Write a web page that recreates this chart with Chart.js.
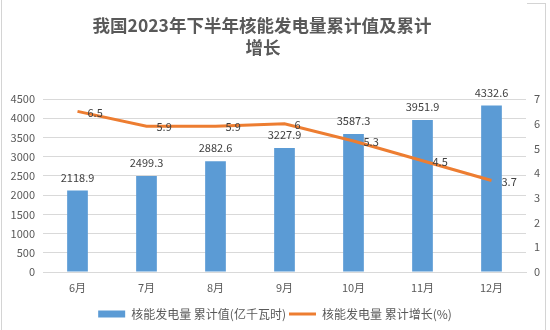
<!DOCTYPE html>
<html>
<head>
<meta charset="utf-8">
<script src="https://cdn.jsdelivr.net/npm/chart.js@4"></script>
<style>
html,body{margin:0;padding:0;background:#fff;}
#wrap{width:550px;height:330px;position:relative;}
</style>
</head>
<body>
<div id="wrap"><canvas id="c" width="550" height="330"></canvas></div>
<script>
const categories = ['6月','7月','8月','9月','10月','11月','12月'];
const cumulativeValue = [2118.9, 2499.3, 2882.6, 3227.9, 3587.3, 3951.9, 4332.6];
const cumulativeGrowth = [6.5, 5.9, 5.9, 6, 5.3, 4.5, 3.7];
const seriesNames = ['核能发电量 累计值(亿千瓦时)', '核能发电量 累计增长(%)'];
const titleLines = ['我国2023年下半年核能发电量累计值及累计', '增长'];
const leftTicks = {min: 0, max: 4500, step: 500};
const rightTicks = {min: 0, max: 7, step: 1};

const FONT = '"Noto Sans CJK SC", "Noto Sans", sans-serif';
const GRID = '#d9d9d9';
const TXT = '#595959';

const titlePlugin = {
  id: 'titleText',
  afterDraw(chart) {
    const ctx = chart.ctx;
    ctx.save();
    ctx.font = 'bold 17.5px ' + FONT;
    ctx.fillStyle = TXT;
    ctx.textAlign = 'center';
    ctx.textBaseline = 'middle';
    ctx.fillText(titleLines[0], 262, 25.5);
    ctx.fillText(titleLines[1], 263, 47);
    ctx.restore();
  }
};

const labelPlugin = {
  id: 'valueLabels',
  afterDatasetsDraw(chart) {
    const ctx = chart.ctx;
    ctx.save();
    ctx.font = '11px ' + FONT;
    ctx.fillStyle = '#404040';
    ctx.textBaseline = 'middle';
    chart.getDatasetMeta(0).data.forEach((el, i) => {
      ctx.textAlign = 'center';
      ctx.fillText(String(cumulativeValue[i]), el.x, el.y - 13);
    });
    chart.getDatasetMeta(1).data.forEach((el, i) => {
      ctx.textAlign = 'left';
      ctx.fillText(String(cumulativeGrowth[i]), el.x + 10, el.y + 1);
    });
    ctx.restore();
  }
};

const framePlugin = {
  id: 'frame',
  beforeDraw(chart) {
    const ctx = chart.ctx;
    ctx.save();
    ctx.fillStyle = '#fff';
    ctx.fillRect(0, 0, 550, 330);
    ctx.strokeStyle = '#d4d4d4';
    ctx.lineWidth = 1;
    ctx.beginPath();
    ctx.moveTo(1.5, 0); ctx.lineTo(1.5, 330);
    ctx.moveTo(545.5, 3); ctx.lineTo(545.5, 330);
    ctx.moveTo(527, 3.5); ctx.lineTo(546, 3.5);
    ctx.stroke();
    ctx.restore();
  }
};

new Chart(document.getElementById('c'), {
  data: {
    labels: categories,
    datasets: [
      {
        type: 'bar',
        label: seriesNames[0],
        data: cumulativeValue,
        yAxisID: 'y',
        backgroundColor: '#5B9BD5',
        borderWidth: 0,
        categoryPercentage: 1,
        barPercentage: 0.3,
        order: 1
      },
      {
        type: 'line',
        label: seriesNames[1],
        data: cumulativeGrowth,
        yAxisID: 'y1',
        borderColor: '#ED7D31',
        backgroundColor: '#ED7D31',
        borderWidth: 3,
        pointRadius: 0,
        pointHoverRadius: 0,
        tension: 0,
        order: 0
      }
    ]
  },
  options: {
    responsive: false,
    animation: false,
    events: [],
    layout: {padding: {top: 99, bottom: 0, left: 0, right: 0}},
    plugins: {
      tooltip: {enabled: false},
      title: {display: false},
      legend: {
        display: true,
        position: 'bottom',
        labels: {
          font: {family: FONT, size: 12},
          color: TXT,
          usePointStyle: true,
          pointStyleWidth: 27,
          boxWidth: 27,
          boxHeight: 7,
          padding: 3,
          sort: (a, b) => a.datasetIndex - b.datasetIndex,
          generateLabels(chart) {
            const items = Chart.defaults.plugins.legend.labels.generateLabels(chart);
            items.forEach(it => {
              if (it.datasetIndex === 1) {
                it.pointStyle = 'line';
                it.lineWidth = 3;
                it.strokeStyle = '#ED7D31';
              } else {
                it.pointStyle = 'rect';
                it.lineWidth = 0;
                it.fillStyle = '#5B9BD5';
              }
            });
            return items;
          }
        }
      }
    },
    scales: {
      x: {
        grid: {display: false, drawTicks: false},
        border: {display: true, color: GRID},
        ticks: {font: {family: FONT, size: 11}, color: TXT, padding: 9, maxRotation: 0},
        afterFit(s) { s.height = 33; }
      },
      y: {
        position: 'left',
        min: leftTicks.min, max: leftTicks.max,
        ticks: {stepSize: leftTicks.step, font: {family: FONT, size: 11}, color: TXT, padding: 8,
                callback: v => String(v)},
        grid: {color: GRID, drawTicks: false},
        border: {display: false},
        afterFit(s) { s.width = 43; }
      },
      y1: {
        position: 'right',
        min: rightTicks.min, max: rightTicks.max,
        ticks: {stepSize: rightTicks.step, font: {family: FONT, size: 11}, color: TXT, padding: 8,
                callback: v => String(v)},
        grid: {display: false, drawTicks: false},
        border: {display: false},
        afterFit(s) { s.width = 24; }
      }
    }
  },
  plugins: [framePlugin, labelPlugin, titlePlugin]
});
</script>
</body>
</html>
